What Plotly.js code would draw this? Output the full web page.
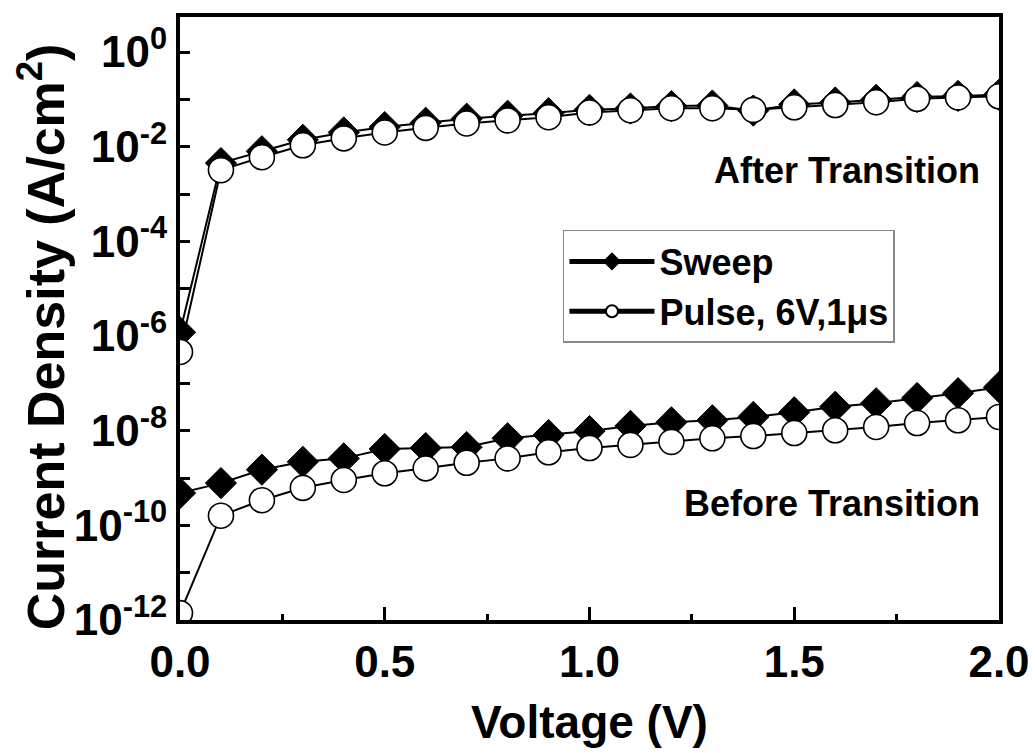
<!DOCTYPE html>
<html>
<head>
<meta charset="utf-8">
<script src="https://cdn.plot.ly/plotly-3.0.1.min.js"></script>
<style>html,body{margin:0;padding:0;background:#fff;}#chart{width:1035px;height:753px;}</style>
</head>
<body>
<div id="chart"></div>
<script>
const voltage = [0.0, 0.1, 0.2, 0.3, 0.4, 0.5, 0.6, 0.7, 0.8, 0.9, 1.0, 1.1, 1.2, 1.3, 1.4, 1.5, 1.6, 1.7, 1.8, 1.9, 2.0];

const sweepBefore = [4.8e-10, 7.8e-10, 1.5e-9, 2.2e-9, 2.6e-9, 4.1e-9, 4.3e-9, 4.5e-9, 6.9e-9, 8.1e-9, 9.8e-9,
  1.26e-8, 1.5e-8, 1.66e-8, 1.95e-8, 2.45e-8, 3.2e-8, 3.8e-8, 4.9e-8, 6.2e-8, 8.3e-8];
const pulseBefore = [1.4e-12, 1.6e-10, 3.4e-10, 6.2e-10, 9.1e-10, 1.26e-9, 1.6e-9, 2.1e-9, 2.6e-9, 3.5e-9, 4.3e-9,
  5.0e-9, 5.8e-9, 6.9e-9, 7.7e-9, 8.9e-9, 1.02e-8, 1.2e-8, 1.45e-8, 1.66e-8, 1.95e-8];
const sweepAfter = [1.2e-6, 4.5e-3, 8.0e-3, 1.4e-2, 2.0e-2, 2.6e-2, 3.2e-2, 3.9e-2, 4.5e-2, 5.1e-2, 6.0e-2,
  6.4e-2, 7.2e-2, 7.4e-2, 5.8e-2, 7.8e-2, 8.6e-2, 9.8e-2, 1.12e-1, 1.18e-1, 1.25e-1];
const pulseAfter = [4.6e-7, 3.2e-3, 6.0e-3, 1.07e-2, 1.5e-2, 2.0e-2, 2.5e-2, 3.1e-2, 3.6e-2, 4.2e-2, 5.3e-2,
  5.9e-2, 6.5e-2, 6.5e-2, 6.0e-2, 6.8e-2, 7.6e-2, 8.7e-2, 1.03e-1, 1.1e-1, 1.16e-1];

const seriesNames = ["Sweep", "Pulse, 6V,1\u03bcs"];
const yTickVals = [1e-12, 1e-11, 1e-10, 1e-9, 1e-8, 1e-7, 1e-6, 1e-5, 1e-4, 1e-3, 1e-2, 1e-1, 1];
const yTickText = ["10<sup>-12</sup>", "", "10<sup>-10</sup>", "", "10<sup>-8</sup>", "", "10<sup>-6</sup>", "",
  "10<sup>-4</sup>", "", "10<sup>-2</sup>", "", "10<sup>0</sup>"];
const xTickVals = [0, 0.5, 1.0, 1.5, 2.0];
const xTickText = ["0.0", "0.5", "1.0", "1.5", "2.0"];
const xTitle = "Voltage (V)";
const yTitle = "Current Density (A/cm<sup>2</sup>)";
const annotationTexts = ["After Transition", "Before Transition"];

const FONT = "Liberation Sans, Arial, Helvetica, sans-serif";

const diamondStyle = {symbol: "diamond", size: 24, color: "#000", line: {color: "#000", width: 1}};
const circleStyle = {symbol: "circle", size: 25, color: "#fff", line: {color: "#000", width: 1.6}};
const lineStyle = {color: "#000", width: 2};

const traces = [
  {x: voltage, y: sweepBefore, name: seriesNames[0], legendgroup: "s", showlegend: true,
   mode: "lines+markers", marker: diamondStyle, line: lineStyle},
  {x: voltage, y: sweepAfter, name: seriesNames[0], legendgroup: "s", showlegend: false,
   mode: "lines+markers", marker: diamondStyle, line: lineStyle},
  {x: voltage, y: pulseBefore, name: seriesNames[1], legendgroup: "p", showlegend: true,
   mode: "lines+markers", marker: circleStyle, line: lineStyle},
  {x: voltage, y: pulseAfter, name: seriesNames[1], legendgroup: "p", showlegend: false,
   mode: "lines+markers", marker: circleStyle, line: lineStyle}
];

const layout = {
  width: 1035, height: 753,
  margin: {l: 180, r: 36, t: 17, b: 133},
  paper_bgcolor: "#fff", plot_bgcolor: "#fff",
  font: {family: FONT, color: "#000", weight: "bold"},
  showlegend: true,
  legend: {
    x: 0.4676, y: 0.6468, xanchor: "left", yanchor: "top",
    bgcolor: "#fff", bordercolor: "#888", borderwidth: 1.5,
    font: {family: FONT, size: 36, color: "#000", weight: "bold"},
    itemsizing: "constant", itemwidth: 85, tracegroupgap: 0
  },
  xaxis: {
    range: [0, 2], tickvals: xTickVals, ticktext: xTickText,
    ticks: "inside", ticklen: 13, tickwidth: 3, tickcolor: "#000",
    minor: {ticks: "inside", dtick: 0.25, ticklen: 6, tickwidth: 3, tickcolor: "#000"},
    showline: true, linewidth: 4, linecolor: "#000", mirror: true,
    showgrid: false, zeroline: false,
    tickfont: {family: FONT, size: 44, color: "#000", weight: "bold"},
    title: {text: xTitle, font: {family: FONT, size: 46, color: "#000", weight: "bold"}, standoff: 22}
  },
  yaxis: {
    type: "log", range: [-12, 0.74],
    tickvals: yTickVals, ticktext: yTickText,
    ticks: "inside", ticklen: 10, tickwidth: 3, tickcolor: "#000",
    minor: {ticks: "inside", ticklen: 5, tickwidth: 2, tickcolor: "#000"},
    showline: true, linewidth: 4, linecolor: "#000", mirror: true,
    showgrid: false, zeroline: false,
    tickfont: {family: FONT, size: 44, color: "#000", weight: "bold"},
    title: {text: ""}
  },
  annotations: [
    {text: yTitle, xref: "paper", yref: "paper", x: 0, y: 0.469, xshift: -138, textangle: -90,
     xanchor: "center", yanchor: "middle", showarrow: false,
     font: {family: FONT, size: 52, color: "#000", weight: "bold"}},
    {text: annotationTexts[0], xref: "paper", yref: "paper", x: 0.979, y: 0.746, xanchor: "right", yanchor: "middle",
     showarrow: false, font: {family: FONT, size: 36, color: "#000", weight: "bold"}},
    {text: annotationTexts[1], xref: "paper", yref: "paper", x: 0.979, y: 0.194, xanchor: "right", yanchor: "middle",
     showarrow: false, font: {family: FONT, size: 36, color: "#000", weight: "bold"}}
  ]
};

Plotly.newPlot("chart", traces, layout, {displayModeBar: false, staticPlot: true});
</script>
</body>
</html>
